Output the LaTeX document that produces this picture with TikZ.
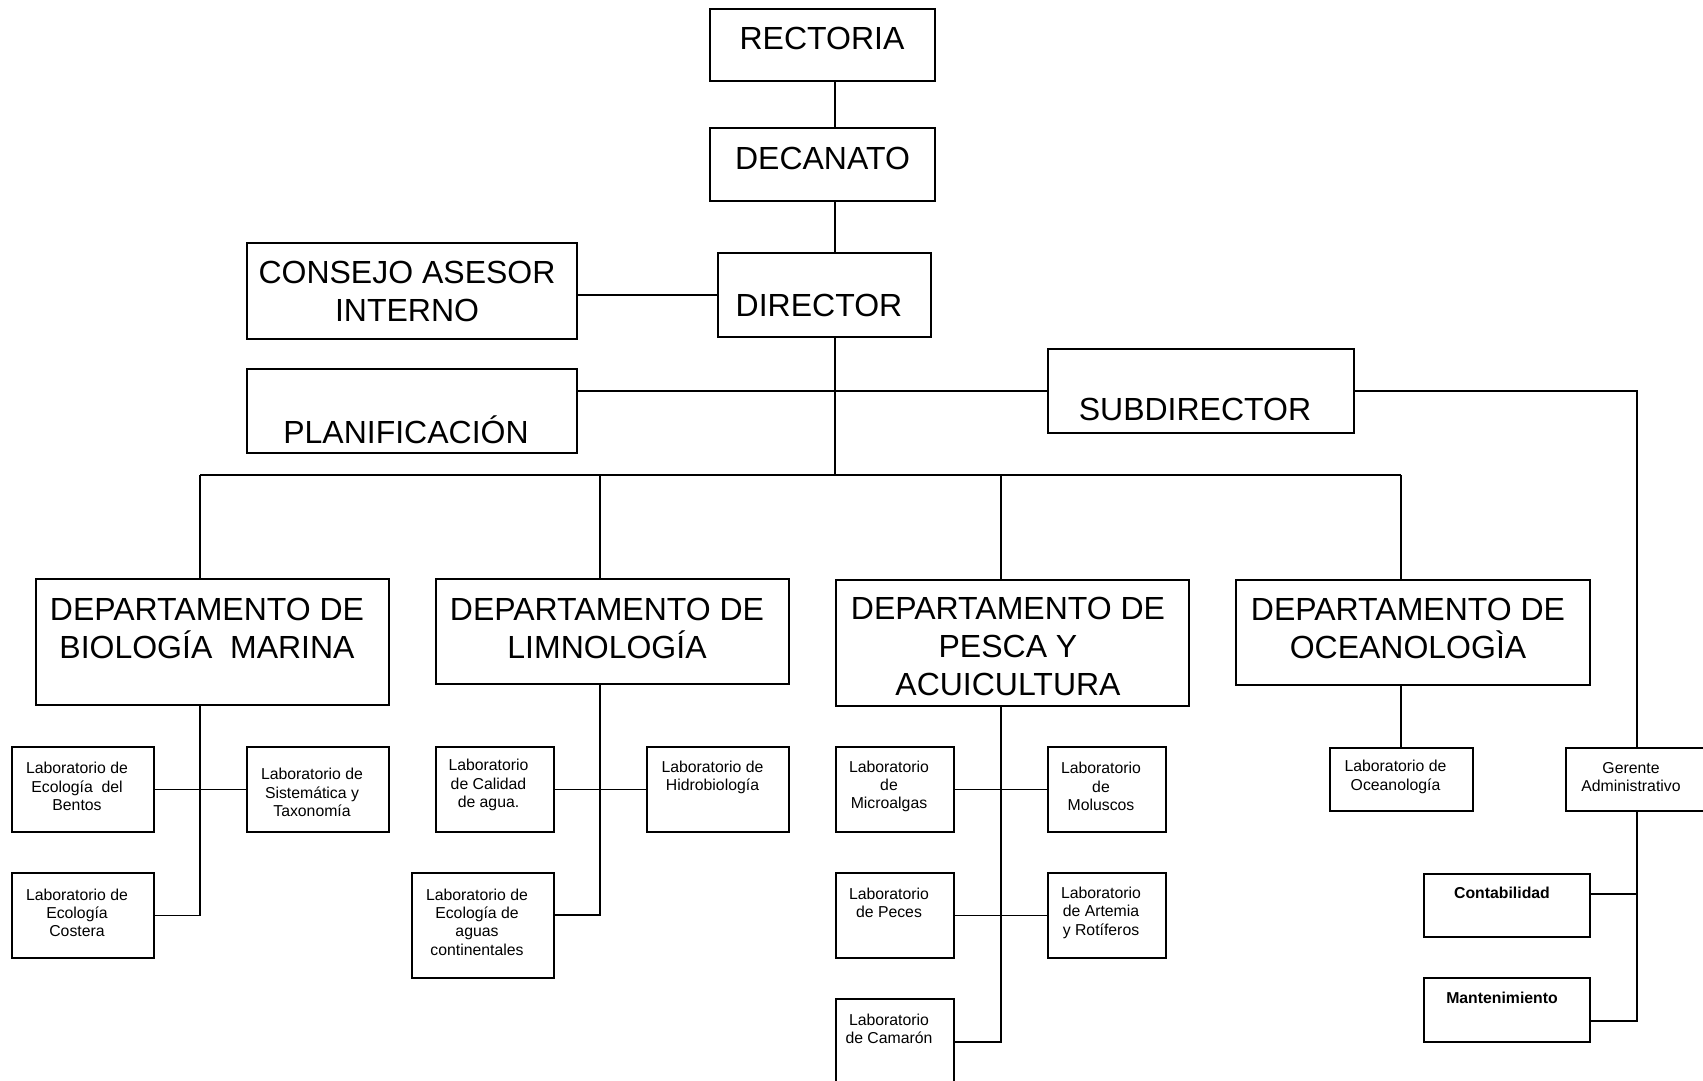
\documentclass[tikz,border=0pt]{standalone}
\usepackage{fontspec}
\setmainfont{Liberation Sans}
\usetikzlibrary{fit}
\begin{document}
\begin{tikzpicture}[x=0.5pt,y=-0.5pt,
  box/.style={draw,line width=0.8pt,inner sep=0pt},
  conn/.style={line width=0.8pt},
  big/.style={font=\fontsize{16pt}{19pt}\selectfont,align=center,inner sep=0pt},
  small/.style={font=\fontsize{7.9pt}{9.15pt}\selectfont,align=center,inner sep=0pt}]
\useasboundingbox (0,0) rectangle (1703,1081);
\fill[white] (0,0) rectangle (1703,1081);
% helper coordinates
\coordinate (trunk) at (835,0);
\coordinate (bus) at (0,475);
\coordinate (c1) at (200,0);
\coordinate (c2) at (600,0);
\coordinate (c3) at (1001,0);
\coordinate (c4) at (1401,0);
\coordinate (gx) at (1637,0);
\coordinate (row2) at (0,915);
\coordinate (row3) at (0,1042);
\coordinate (crow) at (0,894);
\coordinate (mrow) at (0,1021);
% boxes
\node[box,fit={(710,9) (935,81)}] (rect) {};
\node[box,fit={(710,128) (935,201)}] (dec) {};
\node[box,fit={(718,253) (931,337)}] (dir) {};
\node[box,fit={(247,243) (577,339)}] (cons) {};
\node[box,fit={(247,369) (577,453)}] (plan) {};
\node[box,fit={(1048,349) (1354,433)}] (sub) {};
\node[box,fit={(36,579) (389,705)}] (bio) {};
\node[box,fit={(436,579) (789,684)}] (limn) {};
\node[box,fit={(836,580) (1189,706)}] (pes) {};
\node[box,fit={(1236,580) (1590,685)}] (oce) {};
\node[box,fit={(12,747) (154,832)}] (bent) {};
\node[box,fit={(247,747) (389,832)}] (sist) {};
\node[box,fit={(12,873) (154,958)}] (cost) {};
\node[box,fit={(436,747) (554,832)}] (cal) {};
\node[box,fit={(647,747) (789,832)}] (hid) {};
\node[box,fit={(412,873) (554,978)}] (agua) {};
\node[box,fit={(836,747) (954,832)}] (mic) {};
\node[box,fit={(1048,747) (1166,832)}] (mol) {};
\node[box,fit={(836,873) (954,958)}] (pec) {};
\node[box,fit={(1048,873) (1166,958)}] (art) {};
\node[box,fit={(836,999) (954,1095)}] (cam) {};
\node[box,fit={(1330,748) (1473,811)}] (olab) {};
\node[box,fit={(1566,748) (1712,811)}] (ger) {};
\node[box,fit={(1424,874) (1590,937)}] (cont) {};
\node[box,fit={(1424,978) (1590,1042)}] (mant) {};
% texts
\node[big] (rect-t) at (822,38.5) {RECTORIA};
\node[big] (dec-t) at (822.5,158) {DECANATO};
\node[big] (cons-t) at (407,291) {CONSEJO ASESOR\\INTERNO};
\node[big] (dir-t) at (819,305) {DIRECTOR};
\node[big] (plan-t) at (406,430) {PLANIFICACIÓN};
\node[big] (sub-t) at (1195,409.5) {SUBDIRECTOR};
\node[big] (bio-t) at (207,628) {DEPARTAMENTO DE\\BIOLOGÍA\ \ MARINA};
\node[big] (limn-t) at (607,628) {DEPARTAMENTO DE\\LIMNOLOGÍA};
\node[big] (pes-t) at (1008,646) {DEPARTAMENTO DE\\PESCA Y\\ACUICULTURA};
\node[big] (oce-t) at (1408,628) {DEPARTAMENTO DE\\OCEANOLOGÌA};
\node[small] (bent-t) at (77,786.5) {Laboratorio de\\Ecología\ \ del\\Bentos};
\node[small] (sist-t) at (312,792.5) {Laboratorio de\\Sistemática y\\Taxonomía};
\node[small] (cost-t) at (77,913) {Laboratorio de\\Ecología\\Costera};
\node[small] (cal-t) at (488.5,785) {Laboratorio\\de Calidad\\de agua.};
\node[small] (hid-t) at (712.5,777.5) {Laboratorio de\\Hidrobiología};
\node[small] (agua-t) at (477,922) {Laboratorio de\\Ecología de\\aguas\\continentales};
\node[small] (mic-t) at (889,786.5) {Laboratorio\\de\\Microalgas};
\node[small] (mol-t) at (1101,786.5) {Laboratorio\\de\\Moluscos};
\node[small] (pec-t) at (889,903) {Laboratorio\\de Peces};
\node[small] (art-t) at (1101,912.7) {Laboratorio\\de Artemia\\y Rotíferos};
\node[small] (cam-t) at (889,1028.5) {Laboratorio\\de Camarón};
\node[small] (olab-t) at (1395.5,777) {Laboratorio de\\Oceanología};
\node[small] (ger-t) at (1631,777) {Gerente\\Administrativo};
\node[small] (cont-t) at (1502,893) {\bfseries Contabilidad};
\node[small] (mant-t) at (1502,998) {\bfseries Mantenimiento};
% connectors
\draw[conn] (rect.south -| trunk) -- (dec.north -| trunk);
\draw[conn] (dec.south -| trunk) -- (dir.north -| trunk);
\draw[conn] (cons.east |- dir.west) -- (dir.west);
\draw[conn] (dir.south -| trunk) -- (trunk |- bus);
\draw[conn] (plan.east |- sub.west) -- (sub.west);
\draw[conn] (sub.east) -- (gx |- sub.east) -- (ger.north -| gx);
\draw[conn] (c1 |- bus) -- (c4 |- bus);
\draw[conn] (c1 |- bus) -- (bio.north -| c1);
\draw[conn] (c2 |- bus) -- (limn.north -| c2);
\draw[conn] (c3 |- bus) -- (pes.north -| c3);
\draw[conn] (c4 |- bus) -- (oce.north -| c4);
% biologia
\draw[conn] (bio.south -| c1) -- (c1 |- cost.east) -- (cost.east);
\draw[conn] (bent.east) -- (sist.west);
% limnologia
\draw[conn] (limn.south -| c2) -- (c2 |- row2) -- (agua.east |- row2);
\draw[conn] (cal.east) -- (hid.west);
% pesca
\draw[conn] (pes.south -| c3) -- (c3 |- row3) -- (cam.east |- row3);
\draw[conn] (mic.east) -- (mol.west);
\draw[conn] (pec.east) -- (art.west);
% oceanologia
\draw[conn] (oce.south -| c4) -- (olab.north -| c4);
% gerente
\draw[conn] (ger.south -| gx) -- (gx |- mrow) -- (mant.east |- mrow);
\draw[conn] (cont.east |- crow) -- (gx |- crow);
\end{tikzpicture}
\end{document}
